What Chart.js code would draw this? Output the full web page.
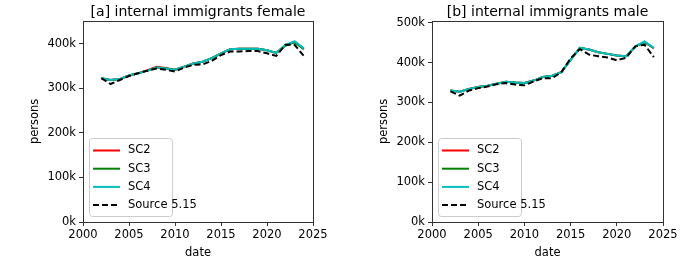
<!DOCTYPE html>
<html>
<head>
<meta charset="utf-8">
<script src="https://cdn.jsdelivr.net/npm/chart.js@4"></script>
<style>
  html, body { margin: 0; padding: 0; background: #fff; }
  #wrap { display: flex; width: 698px; height: 262px; }
  .box { position: relative; width: 349px; height: 262px; }
</style>
</head>
<body>
<div id="wrap">
  <div class="box"><canvas id="femaleChart"></canvas></div>
  <div class="box"><canvas id="maleChart"></canvas></div>
</div>
<script>
// 年
const years = [2002, 2003, 2004, 2005, 2006, 2007, 2008, 2009, 2010, 2011, 2012, 2013,
               2014, 2015, 2016, 2017, 2018, 2019, 2020, 2021, 2022, 2023, 2024];

// 女性 (persons)
const femaleSC2 = [323000, 319000, 321000, 329000, 334000, 341000, 348500, 346000, 342000, 349000, 356000, 360000,
                   368000, 379000, 388000, 389000, 389000, 389000, 386000, 380000, 397000, 405000, 389000];
const femaleSC3 = [323000, 319000, 321000, 329000, 334000, 340000, 347000, 345000, 342000, 349000, 356000, 360000,
                   368000, 379000, 388000, 389000, 389000, 389000, 386000, 380000, 396000, 404000, 388000];
const femaleSC4 = [323000, 319000, 321000, 329000, 334000, 340000, 347000, 345000, 342000, 349000, 356000, 360000,
                   368000, 379000, 388000, 389000, 389000, 389000, 386000, 380000, 398000, 406000, 390000];
const femaleSource = [323000, 310000, 319000, 328000, 334000, 340000, 345000, 342000, 338000, 347000, 353000, 354000,
                      362000, 375000, 383000, 383000, 384000, 384000, 379000, 373000, 398000, 398000, 373000];

// 男性 (persons)
const maleSC2 = [330000, 327000, 334000, 339000, 342000, 347000, 352000, 350000, 349000, 355000, 364000, 367000,
                 376000, 407000, 437000, 433000, 426000, 422000, 418000, 416000, 440000, 452000, 436000];
const maleSC3 = [330000, 327000, 334000, 339000, 342000, 347000, 352000, 350000, 349000, 355000, 364000, 367000,
                 376000, 407000, 437000, 433000, 426000, 422000, 418000, 416000, 440000, 452000, 436000];
const maleSC4 = [330000, 327000, 334000, 339000, 342000, 347000, 352000, 350000, 349000, 355000, 364000, 367000,
                 376000, 407000, 437000, 433000, 426000, 422000, 418000, 416000, 441000, 453000, 437000];
const maleSource = [328000, 317000, 330000, 336000, 340000, 346000, 349000, 345000, 343000, 353000, 361000, 361000,
                    376000, 411000, 434000, 420000, 416000, 413000, 406000, 412000, 441000, 445000, 414000];

// 目盛り
const xTicks = [2000, 2005, 2010, 2015, 2020, 2025];
const yTicks = [0, 100000, 200000, 300000, 400000, 500000];

const FONT = "'DejaVu Sans', sans-serif";

function toPoints(values) {
    return values.map((v, i) => ({ x: years[i], y: v }));
}

// 枠線 (matplotlib風の四辺)
const framePlugin = {
    id: 'frame',
    afterDraw(chart) {
        const { ctx, chartArea: a } = chart;
        ctx.save();
        ctx.strokeStyle = '#333';
        ctx.lineWidth = 1;
        ctx.strokeRect(Math.round(a.left) + 0.5, Math.round(a.top) + 0.5,
                       Math.round(a.right - a.left), Math.round(a.bottom - a.top));
        ctx.restore();
    }
};

// 凡例 (プロット内左下)
const innerLegend = {
    id: 'innerLegend',
    afterDraw(chart) {
        const { ctx, chartArea: a } = chart;
        const x0 = a.left + 6, y0 = a.bottom - 84, w = 83, h = 78;
        ctx.save();
        ctx.fillStyle = 'rgba(255,255,255,0.8)';
        ctx.strokeStyle = '#ccc';
        ctx.lineWidth = 1;
        ctx.beginPath();
        ctx.roundRect(x0 + 0.5, y0 + 0.5, w, h, 3);
        ctx.fill();
        ctx.stroke();
        ctx.font = '11.5px ' + FONT;
        ctx.textBaseline = 'middle';
        chart.data.datasets.forEach((ds, i) => {
            const y = y0 + 12.5 + i * 18.2;
            ctx.strokeStyle = ds.borderColor;
            ctx.lineWidth = ds.borderWidth;
            ctx.setLineDash(ds.borderDash || []);
            ctx.beginPath();
            ctx.moveTo(x0 + 4, y);
            ctx.lineTo(x0 + 31, y);
            ctx.stroke();
            ctx.setLineDash([]);
            ctx.fillStyle = '#000';
            ctx.fillText(ds.label, x0 + 39, y);
        });
        ctx.restore();
    }
};

function makeChart(id, title, sc2, sc3, sc4, src, yMax, padRight) {
    const ctx = document.getElementById(id).getContext('2d');
    return new Chart(ctx, {
        type: 'line',
        data: {
            datasets: [
                { label: 'SC2', data: toPoints(sc2), borderColor: '#ff0000', borderWidth: 2, order: 3 },
                { label: 'SC3', data: toPoints(sc3), borderColor: '#008000', borderWidth: 2, order: 2 },
                { label: 'SC4', data: toPoints(sc4), borderColor: '#00bfbf', borderWidth: 2, order: 1 },
                { label: 'Source 5.15', data: toPoints(src), borderColor: '#000000', borderWidth: 2,
                  borderDash: [6, 3], order: 0 }
            ]
        },
        options: {
            responsive: false,
            animation: false,
            elements: { point: { radius: 0 }, line: { tension: 0 } },
            layout: { padding: { left: 0, right: padRight, top: 0, bottom: 0 } },
            plugins: {
                legend: { display: false },
                tooltip: { enabled: false },
                title: {
                    display: true,
                    text: title,
                    fullSize: false,
                    color: '#000',
                    font: { family: FONT, size: 14, weight: 'normal' },
                    padding: { top: 4, bottom: 0 }
                }
            },
            scales: {
                x: {
                    type: 'linear',
                    min: xTicks[0],
                    max: xTicks[xTicks.length - 1],
                    afterBuildTicks: s => { s.ticks = xTicks.map(v => ({ value: v })); },
                    afterFit: s => { s.height = 40; },
                    grid: { display: true, drawOnChartArea: false, drawTicks: true, tickLength: 4,
                            color: '#333', tickColor: '#333' },
                    border: { display: false },
                    ticks: { color: '#000', padding: 2, maxRotation: 0,
                             font: { family: FONT, size: 11.5 }, callback: v => String(v) },
                    title: { display: true, text: 'date', color: '#000',
                             font: { family: FONT, size: 11.5 }, padding: { top: 0, bottom: 2 } }
                },
                y: {
                    type: 'linear',
                    min: 0,
                    max: yMax,
                    afterBuildTicks: s => { s.ticks = yTicks.filter(v => v <= yMax).map(v => ({ value: v })); },
                    afterFit: s => { s.width = 83; },
                    grid: { display: true, drawOnChartArea: false, drawTicks: true, tickLength: 4,
                            color: '#333', tickColor: '#333' },
                    border: { display: false },
                    ticks: { color: '#000', padding: 3,
                             font: { family: FONT, size: 11.5 }, callback: v => (v / 1000) + 'k' },
                    title: { display: true, text: 'persons', color: '#000',
                             font: { family: FONT, size: 11.5 }, padding: { top: 28, bottom: 0 } }
                }
            }
        },
        plugins: [framePlugin, innerLegend]
    });
}

function setSize(id) {
    const c = document.getElementById(id);
    c.width = 349; c.height = 262;
    c.style.width = '349px'; c.style.height = '262px';
}
setSize('femaleChart');
setSize('maleChart');

makeChart('femaleChart', '[a] internal immigrants female', femaleSC2, femaleSC3, femaleSC4, femaleSource, 452000, 36);
makeChart('maleChart', '[b] internal immigrants male', maleSC2, maleSC3, maleSC4, maleSource, 505000, 35);
</script>
</body>
</html>
